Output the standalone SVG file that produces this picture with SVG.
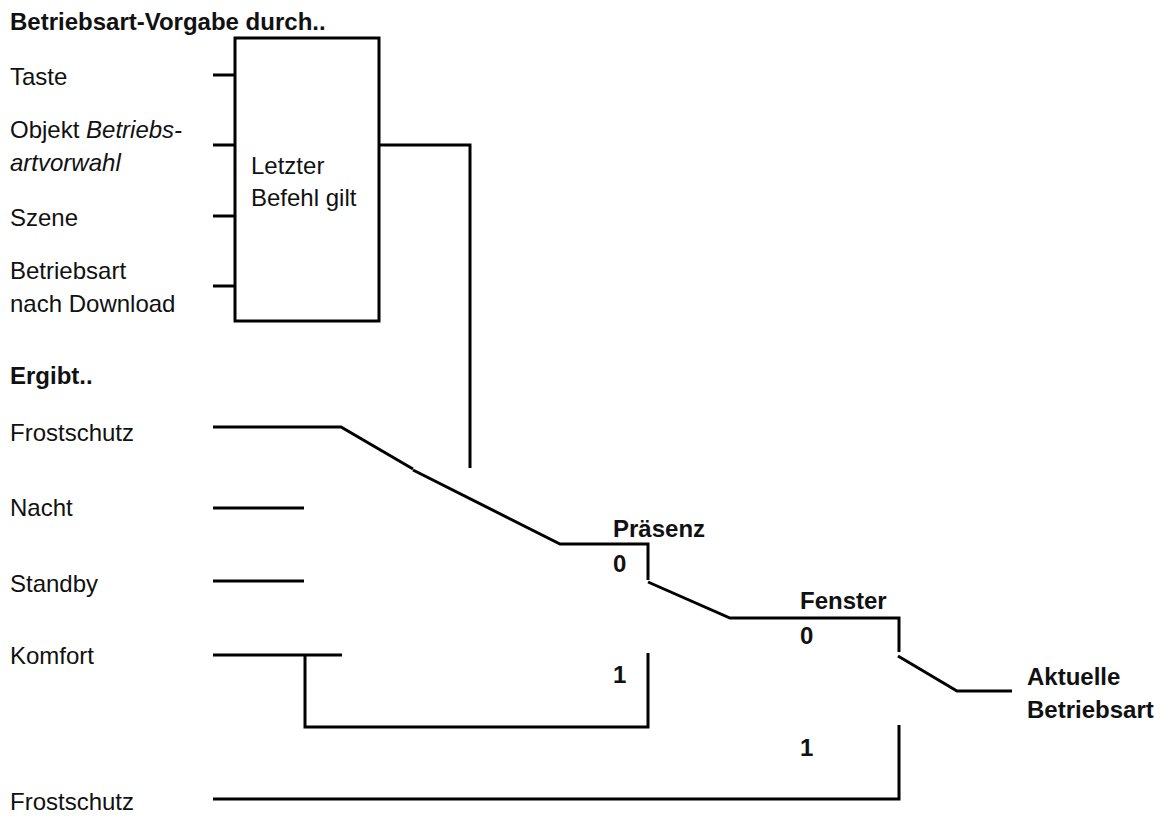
<svg xmlns="http://www.w3.org/2000/svg" width="1175" height="819" viewBox="0 0 1175 819">
<style>
text{font-family:"Liberation Sans",Arial,sans-serif;font-size:24px;fill:#111}
.b{font-weight:bold}
.i{font-style:italic}
.ln{fill:none;stroke:#000;stroke-width:3;stroke-linecap:butt;stroke-linejoin:miter}
</style>
<rect width="1175" height="819" fill="#fff"/>
<g id="labels-inputs">
<text class="b" x="10" y="30">Betriebsart-Vorgabe durch..</text>
<text x="10" y="85">Taste</text>
<text x="10" y="138">Objekt <tspan class="i">Betriebs-</tspan></text>
<text class="i" x="10" y="171">artvorwahl</text>
<text x="10" y="226">Szene</text>
<text x="10" y="279">Betriebsart</text>
<text x="10" y="312">nach Download</text>
</g>
<g id="node-letzter-befehl">
<rect class="ln" x="235" y="38" width="144" height="283"/>
<text x="251" y="174">Letzter</text>
<text x="251" y="206">Befehl gilt</text>
</g>
<g id="labels-modes">
<text class="b" x="10" y="384">Ergibt..</text>
<text x="10" y="441">Frostschutz</text>
<text x="10" y="516">Nacht</text>
<text x="10" y="592">Standby</text>
<text x="10" y="664">Komfort</text>
<text x="10" y="810">Frostschutz</text>
</g>
<g id="node-praesenz">
<text class="b" x="613" y="537">Präsenz</text>
<text class="b" x="613" y="572">0</text>
<text class="b" x="613" y="683">1</text>
</g>
<g id="node-fenster">
<text class="b" x="800" y="609">Fenster</text>
<text class="b" x="800" y="644">0</text>
<text class="b" x="800" y="756">1</text>
</g>
<g id="node-aktuelle">
<text class="b" x="1027" y="685">Aktuelle</text>
<text class="b" x="1027" y="718">Betriebsart</text>
</g>
<g id="connectors">
<path class="ln" d="M213,75H235M213,145H235M213,216H235M213,286H235"/>
<path class="ln" d="M379,145H470V468"/>
<path class="ln" d="M213,427H341L413,469"/>
<path class="ln" d="M413,470L560,544H648V580"/>
<path class="ln" d="M213,508H304M213,581H304"/>
<path class="ln" d="M213,655H342M305,655V727H648V653"/>
<path class="ln" d="M648,582L730,618H899V652"/>
<path class="ln" d="M898,656L957,691H1012"/>
<path class="ln" d="M213,799H899V725"/>
</g>
</svg>
